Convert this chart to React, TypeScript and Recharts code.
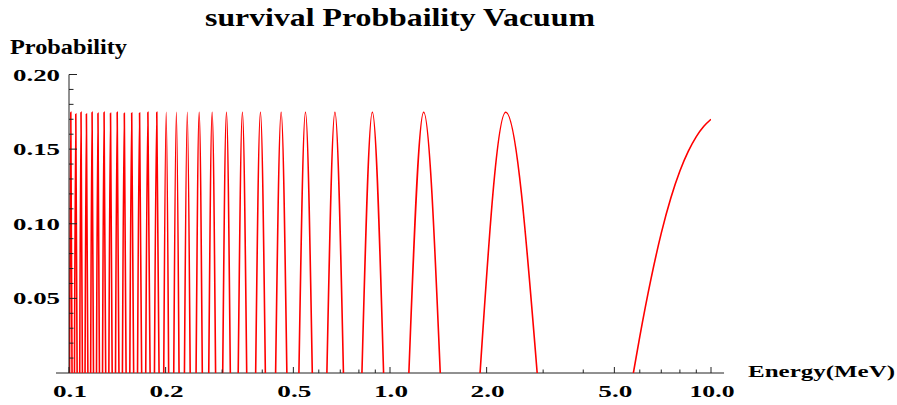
import React from "react";
import {LineChart, Line, XAxis, YAxis, ReferenceLine} from "recharts";

// Each lobe of the curve, lowest energy first (MeV): where it leaves zero,
// where it peaks and where it falls back to zero, plus the peak height.
const lobeStart = [
    0.1004, 0.1040, 0.1080, 0.1122, 0.1168, 0.1218, 0.1272, 0.1331, 0.1396, 0.1467,
    0.1547, 0.1635, 0.1734, 0.1846, 0.1973, 0.2120, 0.2289, 0.2488, 0.2725, 0.3012,
    0.3366, 0.3815, 0.4402, 0.5203, 0.6359, 0.8177, 1.145, 1.908,
];
const lobePeak = [
    0.1013, 0.1050, 0.1090, 0.1133, 0.1180, 0.1231, 0.1286, 0.1347, 0.1413, 0.1487,
    0.1568, 0.1659, 0.1761, 0.1877, 0.2008, 0.2160, 0.2336, 0.2544, 0.2792, 0.3094,
    0.3469, 0.3948, 0.4580, 0.5453, 0.6736, 0.881, 1.273, 2.294,
];
const lobeEnd = [
    0.1022, 0.1060, 0.1101, 0.1145, 0.1192, 0.1244, 0.1301, 0.1363, 0.1431, 0.1506,
    0.1590, 0.1684, 0.1789, 0.1908, 0.2044, 0.2202, 0.2385, 0.2602, 0.2862, 0.3181,
    0.3578, 0.4090, 0.4772, 0.5727, 0.7161, 0.955, 1.434, 2.874,
];
const lobeTop = [
    0.1747, 0.1735, 0.1747, 0.1735, 0.1747, 0.174, 0.1747, 0.174, 0.1747, 0.174,
    0.1742, 0.1742, 0.1747, 0.1747, 0.1747, 0.1747, 0.1747, 0.1747, 0.1747, 0.1747,
    0.1747, 0.1747, 0.1747, 0.1747, 0.1747, 0.1747, 0.1747, 0.1747,
];

// last lobe, still rising at the end of the range
const tailEnergy = [5.73, 6.0, 6.5, 7.0, 7.5, 8.0, 8.5, 9.0, 9.5, 10.0];
const tailProb = [0, 0.0244, 0.0629, 0.0937, 0.1174, 0.1353, 0.1486, 0.1584, 0.1653, 0.170];

const xMajorTicks = [0.1, 0.2, 0.5, 1, 2, 5, 10];
const xMajorLabels = ["0.1", "0.2", "0.5", "1.0", "2.0", "5.0", "10.0"];
const xMinorTicks = [0.3, 0.4, 0.6, 0.7, 0.8, 0.9, 3, 4, 6, 7, 8, 9];
const yMajorTicks = [0.05, 0.1, 0.15, 0.2];
const yMinorTicks = [
    0.01, 0.02, 0.03, 0.04, 0.06, 0.07, 0.08, 0.09,
    0.11, 0.12, 0.13, 0.14, 0.16, 0.17, 0.18, 0.19,
];

type Row = { e: number; p: number | null };

// null rows between lobes so the line breaks where the curve sits below zero
const rows: Row[] = [];
lobeStart.forEach((start, i) => {
    rows.push({e: start, p: 0});
    rows.push({e: lobePeak[i], p: lobeTop[i]});
    rows.push({e: lobeEnd[i], p: 0});
    const next = i + 1 < lobeStart.length ? lobeStart[i + 1] : tailEnergy[0];
    rows.push({e: Math.sqrt(lobeEnd[i] * next), p: null});
});
tailEnergy.forEach((e, i) => rows.push({e, p: tailProb[i]}));

const FONT = '"Liberation Serif", "Times New Roman", serif';
const AXIS = "#222";

const XTick = (props: any) => {
    const {x, y, payload} = props;
    const idx = xMajorTicks.indexOf(payload.value);
    const major = idx >= 0;
    const label = major ? xMajorLabels[idx] : "";
    return (
        <g>
            <line x1={x} x2={x} y1={y} y2={y - (major ? 6 : 3.5)} stroke={AXIS} strokeWidth={1}/>
            {major && (
                <text
                    x={x + 1}
                    y={y + 23.5}
                    textAnchor="middle"
                    fontFamily={FONT}
                    fontWeight="bold"
                    fontSize={17.5}
                    fill="#000"
                    textLength={label.length > 3 ? 45 : 34}
                    lengthAdjust="spacingAndGlyphs"
                >
                    {label}
                </text>
            )}
        </g>
    );
};

const YTick = (props: any) => {
    const {x, y, payload} = props;
    const v = payload.value as number;
    const major = yMajorTicks.includes(v);
    return (
        <g>
            <line x1={x} x2={x + (major ? 8 : 4.5)} y1={y} y2={y} stroke={AXIS} strokeWidth={1}/>
            {major && (
                <text
                    x={x - 9}
                    y={y + 6}
                    textAnchor="end"
                    fontFamily={FONT}
                    fontWeight="bold"
                    fontSize={17.5}
                    fill="#000"
                    textLength={47}
                    lengthAdjust="spacingAndGlyphs"
                >
                    {v.toFixed(2)}
                </text>
            )}
        </g>
    );
};

const App = (): JSX.Element => {
    const xTicks = [...xMajorTicks, ...xMinorTicks].sort((a, b) => a - b);
    const yTicks = [...yMajorTicks, ...yMinorTicks].sort((a, b) => a - b);
    return (
        <div style={{position: "absolute", left: 0, top: 0, width: 897, height: 405, background: "#fff"}}>
            <LineChart
                width={897}
                height={405}
                data={rows}
                margin={{top: 74.5, right: 186, bottom: 0, left: 0}}
            >
                <XAxis
                    dataKey="e"
                    type="number"
                    scale="log"
                    domain={[0.1, 10]}
                    allowDataOverflow
                    ticks={xTicks}
                    interval={0}
                    height={32}
                    axisLine={false}
                    tickLine={false}
                    tickSize={0}
                    tickMargin={0}
                    tick={<XTick/>}
                />
                <YAxis
                    type="number"
                    domain={[0, 0.2]}
                    allowDataOverflow
                    ticks={yTicks}
                    interval={0}
                    width={69}
                    axisLine={{stroke: AXIS, strokeWidth: 1}}
                    tickLine={false}
                    tickSize={0}
                    tickMargin={0}
                    tick={<YTick/>}
                />
                <ReferenceLine
                    segment={[{x: 0.0911, y: 0}, {x: 10.98, y: 0}]}
                    stroke={AXIS}
                    strokeWidth={1}
                    ifOverflow="visible"
                />
                <Line
                    dataKey="p"
                    type="monotoneX"
                    stroke="#ff0000"
                    strokeWidth={1.6}
                    dot={false}
                    activeDot={false}
                    connectNulls={false}
                    isAnimationActive={false}
                />
            </LineChart>
            <svg
                width={897}
                height={405}
                style={{position: "absolute", left: 0, top: 0, pointerEvents: "none"}}
            >
                <text x={205} y={26} fontFamily={FONT} fontWeight="bold" fontSize={26} fill="#000"
                      textLength={390} lengthAdjust="spacingAndGlyphs">
                    survival Probbaility Vacuum
                </text>
                <text x={10} y={54} fontFamily={FONT} fontWeight="bold" fontSize={20} fill="#000"
                      textLength={117} lengthAdjust="spacingAndGlyphs">
                    Probability
                </text>
                <text x={748} y={377} fontFamily={FONT} fontWeight="bold" fontSize={17} fill="#000"
                      textLength={147} lengthAdjust="spacingAndGlyphs">
                    Energy(MeV)
                </text>
            </svg>
        </div>
    );
};

export default App;
